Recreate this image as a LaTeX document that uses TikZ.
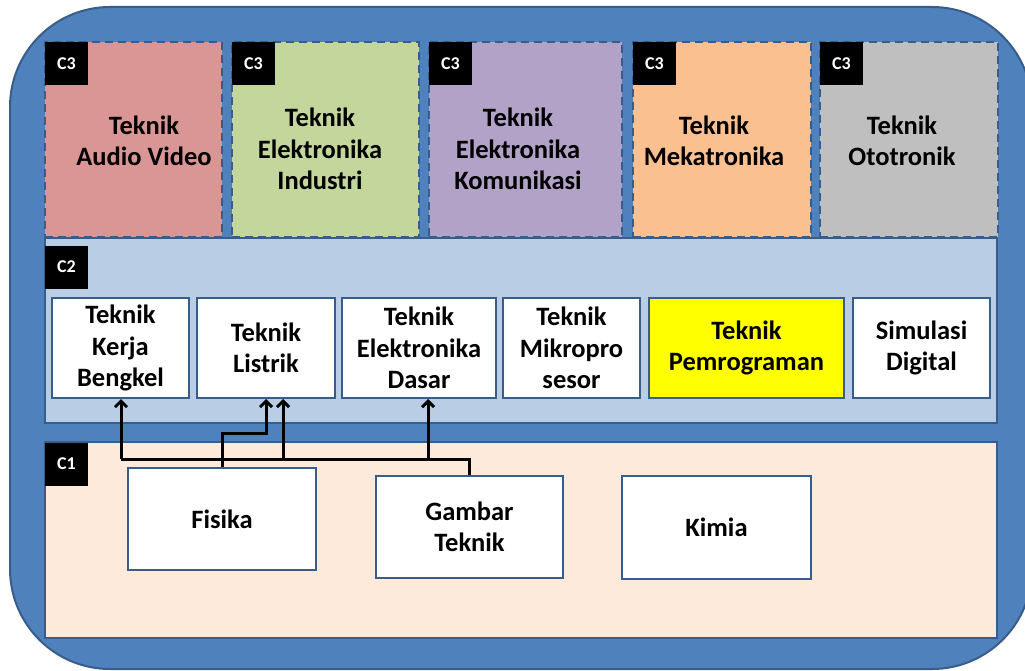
\documentclass[tikz,border=0pt]{standalone}
\usepackage{fontspec}
\setmainfont{Carlito}
\usetikzlibrary{arrows.meta}
\definecolor{outerblue}{HTML}{4F81BD}
\definecolor{darkblue}{HTML}{385D8A}
\definecolor{cRed}{HTML}{D99694}
\definecolor{cGreen}{HTML}{C3D69B}
\definecolor{cPurple}{HTML}{B3A2C7}
\definecolor{cOrange}{HTML}{FAC090}
\definecolor{cGrey}{HTML}{BFBFBF}
\definecolor{cTwo}{HTML}{B9CDE5}
\definecolor{cOne}{HTML}{FDEADA}
\definecolor{cYellow}{HTML}{FFFF00}
\newcommand\tfont{\fontsize{26.5}{31.5}\selectfont\bfseries}
\newcommand\lfont{\fontsize{18}{20}\selectfont\bfseries}
\begin{document}
\begin{tikzpicture}[x=1pt,y=-1pt,
  cthree/.style={draw=darkblue, line width=2pt, dash pattern=on 8pt off 5pt, inner sep=0pt, minimum height=195pt},
  region/.style={draw=darkblue, line width=2pt, inner sep=0pt},
  tag/.style={fill=black, text=white, font=\lfont, minimum width=43pt, minimum height=43pt, inner sep=0pt},
  txt/.style={align=center, font=\tfont, inner sep=0pt},
  subj/.style={draw=darkblue, line width=2pt, fill=white, align=center, font=\tfont, inner sep=0pt},
  wire/.style={line width=3pt},
  arr/.style={line width=3pt, -{Straight Barb[length=6pt,width=12pt]}}
]
\useasboundingbox (0,0) rectangle (1025,671);
\clip (0,0) rectangle (1025,671);
\draw[fill=outerblue, draw=darkblue, line width=2pt, rounded corners=100pt] (10,7) rectangle (1032,669);

% C3 row
\node[cthree, fill=cRed, minimum width=177pt] (b1) at (133.5,139.5) {};
\node[cthree, fill=cGreen, minimum width=187pt] (b2) at (325.5,139.5) {};
\node[cthree, fill=cPurple, minimum width=193pt] (b3) at (525.5,139.5) {};
\node[cthree, fill=cOrange, minimum width=178pt] (b4) at (722,139.5) {};
\node[cthree, fill=cGrey, minimum width=178pt] (b5) at (909,139.5) {};
\node[txt] (t1) at (144,141) {Teknik\\Audio Video};
\node[txt] (t2) at (320,149) {Teknik\\Elektronika\\Industri};
\node[txt] (t3) at (518,149) {Teknik\\Elektronika\\Komunikasi};
\node[txt] (t4) at (714,141) {Teknik\\Mekatronika};
\node[txt] (t5) at (902,141) {Teknik\\Ototronik};
\node[tag] (g1) at (66.5,63.5) {C3};
\node[tag] (g2) at (253.5,63.5) {C3};
\node[tag] (g3) at (450.5,63.5) {C3};
\node[tag] (g4) at (654.5,63.5) {C3};
\node[tag] (g5) at (841.5,63.5) {C3};

% C2 region
\node[region, fill=cTwo, minimum width=952pt, minimum height=185pt] (r2) at (521,330.5) {};
\node[tag] (l2) at (66.5,267) {C2};
\node[subj, minimum width=137pt, minimum height=100pt] (tkb) at (120.5,348) {Teknik\\Kerja\\Bengkel};
\node[subj, minimum width=138pt, minimum height=100pt] (tl) at (266,348) {Teknik\\Listrik};
\node[subj, minimum width=154pt, minimum height=100pt] (ted) at (419,348) {Teknik\\Elektronika\\Dasar};
\node[subj, minimum width=137pt, minimum height=100pt] (tm) at (571.5,348) {Teknik\\Mikropro\\sesor};
\node[subj, fill=cYellow, minimum width=195pt, minimum height=100pt] (tp) at (746.5,348) {Teknik\\Pemrograman};
\node[subj, minimum width=137pt, minimum height=100pt] (sd) at (921.5,348) {Simulasi\\Digital};

% C1 region
\node[region, fill=cOne, minimum width=952pt, minimum height=196pt] (r1) at (521,540) {};
\node[tag] (l1) at (66.5,464) {C1};
\node[subj, minimum width=188pt, minimum height=102pt] (fis) at (222,519) {Fisika};
\node[subj, minimum width=187pt, minimum height=102pt] (gt) at (469.5,527) {Gambar\\Teknik};
\node[subj, minimum width=189pt, minimum height=103pt] (kim) at (716.5,527.5) {Kimia};

% connectors
\coordinate (busL) at (121,459);
\coordinate (busA) at (283,459);
\coordinate (busB) at (428,459);
\coordinate (fj) at (266,433);
\draw[wire] (gt.north) |- (busL);
\draw[arr] (busL) -- (busL |- tkb.south);
\draw[arr] (busA) -- (busA |- tl.south);
\draw[arr] (busB) -- (busB |- ted.south);
\draw[arr] (fis.north) |- (fj) -- (tl.south);
\end{tikzpicture}
\end{document}
